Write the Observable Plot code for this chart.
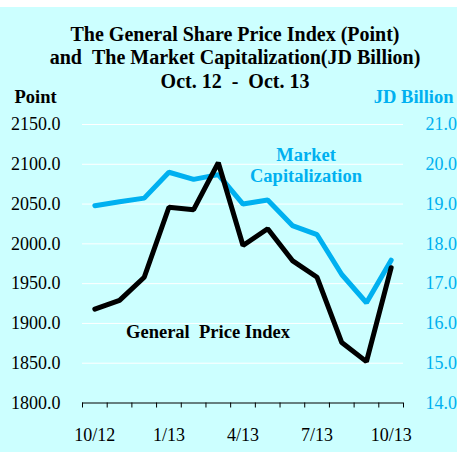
<!DOCTYPE html>
<html>
<head>
<meta charset="utf-8">
<script src="https://cdn.jsdelivr.net/npm/d3@7"></script>
<script src="https://cdn.jsdelivr.net/npm/@observablehq/plot@0.6"></script>
<style>
  html, body { margin: 0; padding: 0; background: #ffffff; }
  #wrap { position: relative; width: 457px; height: 452px; overflow: hidden; }
  #bg { position: absolute; left: 0; top: 7px; width: 457px; height: 445px; background: #CCFFFF; }
  #chart { position: absolute; left: 0; top: 0; }
  #chart svg { background: transparent; }
</style>
</head>
<body>
<div id="wrap"><div id="bg"></div><div id="chart"></div></div>
<script>
// ---- data ----
const months = ["10/12","11/12","12/12","1/13","2/13","3/13","4/13","5/13","6/13","7/13","8/13","9/13","10/13"];
const generalIndex = [1918, 1929, 1958, 2046, 2043, 2102, 1998, 2019, 1979, 1958, 1876, 1852, 1970];
const marketCap = [18.96, 19.06, 19.15, 19.80, 19.62, 19.74, 19.00, 19.10, 18.46, 18.23, 17.23, 16.52, 17.59];
const leftTicks = [1800, 1850, 1900, 1950, 2000, 2050, 2100, 2150];
const rightTicks = [14, 15, 16, 17, 18, 19, 20, 21];
const labeledMonths = ["10/12", "1/13", "4/13", "7/13", "10/13"];
const titleLines = ["The General Share Price Index (Point)", "and\u00a0\u00a0The Market Capitalization(JD Billion)", "Oct. 12\u00a0\u00a0-\u00a0\u00a0Oct. 13"];

// map right-axis values onto left scale
const capToLeft = v => 1800 + (v - 14) * 50;
const leftToCap = v => (v - 1800) / 50 + 14;

const genData = months.map((m, i) => ({i, v: generalIndex[i]}));
const capData = months.map((m, i) => ({i, v: capToLeft(marketCap[i])}));

const BLUE = "#00B0F0";
const serif = "Liberation Serif, Times New Roman, serif";

const chart = Plot.plot({
  width: 457,
  height: 452,
  marginTop: 124,
  marginBottom: 49.5,
  marginLeft: 82,
  marginRight: 54,
  style: {fontFamily: serif, fontSize: "18px", background: "transparent", color: "black"},
  x: {type: "linear", domain: [-0.5, months.length - 0.5]},
  y: {type: "linear", domain: [1800, 2150]},
  marks: [
    Plot.gridY(leftTicks.filter(t => t > 1800), {stroke: "white", strokeOpacity: 1, strokeWidth: 1}),
    Plot.ruleY([1800], {stroke: "black", strokeWidth: 1}),
    Plot.axisY({anchor: "left", ticks: leftTicks, tickSize: 0, tickPadding: 22, tickFormat: d => d.toFixed(1), fontSize: 18, label: null}),
    Plot.axisY({anchor: "right", ticks: rightTicks.map(capToLeft), tickSize: 0, tickPadding: 22, tickFormat: d => leftToCap(d).toFixed(1), fontSize: 18, fill: BLUE, label: null}),
    Plot.axisX({ticks: d3.range(-0.5, months.length, 1), tickSize: 5, tickFormat: () => "", label: null}),
    Plot.axisX({ticks: labeledMonths.map(m => months.indexOf(m)), tickSize: 0, tickPadding: 25, tickFormat: i => months[i], fontSize: 18, label: null}),
    Plot.line(capData, {x: "i", y: "v", stroke: BLUE, strokeWidth: 5, strokeLinejoin: "miter"}),
    Plot.line(genData, {x: "i", y: "v", stroke: "black", strokeWidth: 5, strokeLinejoin: "miter"}),
    Plot.text([titleLines.join("\n")], {frameAnchor: "top", textAnchor: "middle", dx: -8, dy: -37, lineAnchor: "bottom", lineHeight: 1.175, fontSize: 20, fontWeight: "bold", fill: "black"}),
    Plot.text(["Point"], {frameAnchor: "top-left", textAnchor: "start", dx: -68, dy: -22, lineAnchor: "bottom", fontSize: 18.5, fontWeight: "bold", fill: "black"}),
    Plot.text(["JD Billion"], {frameAnchor: "top-right", textAnchor: "end", dx: 50, dy: -22, lineAnchor: "bottom", fontSize: 18.5, fontWeight: "bold", fill: BLUE}),
    Plot.text(["Market\nCapitalization"], {frameAnchor: "top-left", textAnchor: "middle", dx: 223.5, dy: 57, lineAnchor: "bottom", lineHeight: 1.135, fontSize: 18.5, fontWeight: "bold", fill: BLUE}),
    Plot.text(["General\u00a0\u00a0Price Index"], {frameAnchor: "top-left", textAnchor: "middle", dx: 125.5, dy: 213.7, lineAnchor: "bottom", fontSize: 18.5, fontWeight: "bold", fill: "black"})
  ]
});
document.getElementById("chart").appendChild(chart);
</script>
</body>
</html>
